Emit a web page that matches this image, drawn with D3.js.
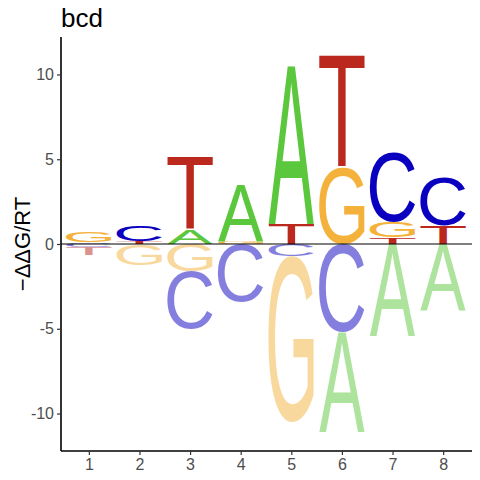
<!DOCTYPE html>
<meta charset="utf-8">
<script src="https://d3js.org/d3.v7.min.js"></script>
<style>
  body { margin: 0; background: #fff; }
</style>
<body>
<div id="my_dataviz"></div>
<script>

// energy logo values (-ddG/RT) per position, one array per base
const positions = [1, 2, 3, 4, 5, 6, 7, 8];
const bases = ["A", "C", "G", "T"];
const energyA = [0.10, -0.05, 0.85, 3.35, 9.30, -5.90, -5.40, -3.90];
const energyC = [-0.20, 0.95, -3.40, -3.40, -0.70, -5.20, 4.10, 2.85];
const energyG = [0.59, -1.20, -1.60, 0.15, -9.80, 4.50, 0.90, 0.00];
const energyT = [-0.45, 0.15, 4.25, 0.00, 1.20, 6.60, 0.40, 1.07];
const yTicks = [-10, -5, 0, 5, 10];

const baseColor = {A: "#5BC73C", C: "#0A00C0", G: "#F4B23C", T: "#BA281E"};
const energy = {A: energyA, C: energyC, G: energyG, T: energyT};

const width = 480, height = 480;
const plot = {left: 61, right: 472, top: 37, bottom: 451};

const svg = d3.select("#my_dataviz")
  .append("svg")
    .attr("width", width)
    .attr("height", height)
    .style("font-family", "Liberation Sans, Arial, sans-serif");

const x = d3.scaleLinear().domain([0.45, 8.57]).range([plot.left, plot.right]);
const y = d3.scaleLinear().domain([-12.21, 12.21]).range([plot.bottom, plot.top]);

// ink box of each capital letter, so a glyph can be stretched to fill its cell
const ctx = document.createElement("canvas").getContext("2d");
ctx.font = "100px 'Liberation Sans'";
const ink = {};
bases.forEach(b => {
  const m = ctx.measureText(b);
  ink[b] = {l: m.actualBoundingBoxLeft, r: m.actualBoundingBoxRight,
            a: m.actualBoundingBoxAscent, d: m.actualBoundingBoxDescent};
});

// stack the letters: positives grow up from 0 (largest on top), negatives grow down
const cells = [];
positions.forEach((p, i) => {
  const vals = bases.map(b => ({base: b, v: energy[b][i]})).filter(d => d.v !== 0);
  let up = 0, down = 0;
  vals.filter(d => d.v > 0).sort((a, b) => a.v - b.v).forEach(d => {
    cells.push({pos: p, base: d.base, y0: up, y1: up + d.v, neg: false});
    up += d.v;
  });
  vals.filter(d => d.v < 0).sort((a, b) => b.v - a.v).forEach(d => {
    cells.push({pos: p, base: d.base, y0: down + d.v, y1: down, neg: true});
    down += d.v;
  });
});

const letterW = 0.9;
svg.append("g")
  .selectAll("text")
  .data(cells)
  .join("text")
    .attr("font-size", 100)
    .attr("font-family", "Liberation Sans")
    .attr("fill", d => baseColor[d.base])
    .attr("fill-opacity", d => d.neg ? 0.5 : 1)
    .attr("transform", d => {
      const k = ink[d.base];
      const bx = x(d.pos - letterW / 2), bw = x(d.pos + letterW / 2) - bx;
      const by = y(d.y1), bh = y(d.y0) - by;
      const sx = bw / (k.l + k.r), sy = bh / (k.a + k.d);
      return `translate(${bx},${by}) scale(${sx},${sy}) translate(${k.l},${k.a})`;
    })
    .text(d => d.base);

// zero line
svg.append("line")
  .attr("x1", plot.left).attr("x2", plot.right)
  .attr("y1", y(0)).attr("y2", y(0))
  .attr("stroke", "#000").attr("stroke-width", 1.2);

// axes
const yAxis = svg.append("g")
  .attr("transform", `translate(${plot.left},0)`)
  .call(d3.axisLeft(y).tickValues(yTicks).tickSize(4).tickPadding(3)
    .tickFormat(d => d < 0 ? "-" + Math.abs(d) : d));
const xAxis = svg.append("g")
  .attr("transform", `translate(0,${plot.bottom})`)
  .call(d3.axisBottom(x).tickValues(positions).tickSize(4).tickPadding(4));

[yAxis, xAxis].forEach(g => {
  g.select(".domain").attr("stroke", "#000").attr("stroke-width", 1.6);
  g.selectAll(".tick line").attr("stroke", "#333").attr("stroke-width", 1.2);
  g.selectAll(".tick text")
    .attr("fill", "#4D4D4D")
    .style("font-size", "16px")
    .style("font-family", "Liberation Sans, Arial, sans-serif");
});
yAxis.select(".domain").attr("d", `M0,${plot.top}V${plot.bottom}`);
xAxis.select(".domain").attr("d", `M${plot.left},0H${plot.right}`);

svg.append("text")
  .attr("transform", `translate(30,${y(0)}) rotate(-90)`)
  .attr("text-anchor", "middle")
  .style("font-size", "22px")
  .attr("fill", "#000")
  .text("\u2212\u0394\u0394G/RT");

svg.append("text")
  .attr("x", 61).attr("y", 27)
  .style("font-size", "26px")
  .attr("fill", "#000")
  .text("bcd");

</script>
</body>
